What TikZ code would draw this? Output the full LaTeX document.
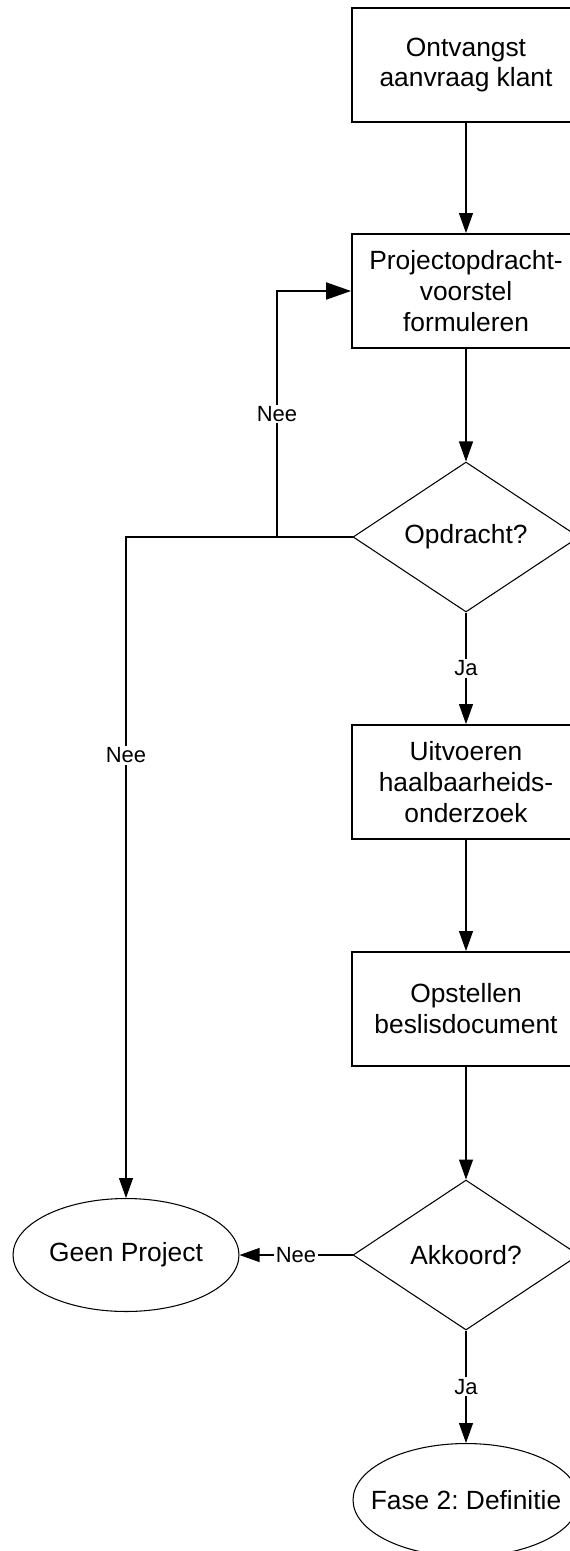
\documentclass[tikz,border=0pt]{standalone}
\usepackage{fontspec}
\setmainfont{Liberation Sans}
\usepackage{tikz}
\usetikzlibrary{shapes,arrows.meta,calc}
\tikzstyle{tsText} = [ 
    text=black, 
    font=\fontsize{15}{17.6}\selectfont
]
\tikzstyle{tsBox} = [ 
    rectangle,
    tsText,
    draw=black,
    line width=1.1pt,
    minimum width=4.56cm,
    minimum height=2.28cm,
    align=center,
    inner sep=0pt]
\tikzstyle{tsDecision} = [ 
    diamond,
    tsText,
    draw=black,
    line width=0.6pt,
    aspect=1.5,
    minimum width=4.52cm,
    minimum height=3cm,
    inner sep=0pt]
\tikzstyle{tsTerminal} = [ 
    ellipse,
    tsText,
    draw=black,
    line width=0.6pt,
    minimum width=4.52cm,
    minimum height=2.26cm,
    inner xsep=-0.9cm,
    inner ysep=0pt]
\tikzstyle{tsLabel} = [ 
    fill=white,
    text=black,
    font=\fontsize{12.5}{14}\selectfont,
    inner sep=1pt]
\tikzstyle{tsArrow} = [ 
    -{Triangle[length=0.4cm, width=0.28cm]},
    line width=0.6pt]
\tikzstyle{tsBoldArrow} = [ 
    -{Triangle[length=0.5cm, width=0.34cm]},
    line width=1.1pt]

\begin{document}
\frenchspacing
\begin{tikzpicture} [x=0.02cm, y=-0.02cm]
        \clip (0,0) rectangle (570,1551);

        % Process boxes
        \node[tsBox] (ontvangst) at (466, 65) {Ontvangst\\aanvraag klant};
        \node[tsBox] (voorstel) at (466, 291) {Projectopdracht-\\voorstel\\formuleren};
        \node[tsBox] (haalbaar) at (466, 782) {Uitvoeren\\haalbaarheids-\\onderzoek};
        \node[tsBox] (beslis) at (466, 1009) {Opstellen\\beslisdocument};

        % Decisions
        \node[tsDecision] (opdracht) at (466, 537) {Opdracht?};
        \node[tsDecision] (akkoord) at (466, 1255) {Akkoord?};

        % End points
        \node[tsTerminal] (geen) at (126, 1255) {Geen Project};
        \node[tsTerminal] (fase) at (466, 1500) {Fase 2: Definitie};

        % Main flow
        \draw[tsArrow] (ontvangst.south) -- (voorstel.north);
        \draw[tsArrow] (voorstel.south) -- (opdracht.north);
        \draw[tsArrow] (opdracht.south) -- node[tsLabel] {Ja} (haalbaar.north);
        \draw[tsArrow] (haalbaar.south) -- (beslis.north);
        \draw[tsArrow] (beslis.south) -- (akkoord.north);
        \draw[tsArrow] (akkoord.south) -- node[tsLabel] {Ja} (fase.north);

        % Nee branches
        \coordinate (neeSplit) at (277, 537);
        \draw[tsBoldArrow] (opdracht.west) -- (neeSplit)
            |- node[tsLabel, pos=0.25] {Nee} (voorstel.west);
        \draw[tsArrow] (neeSplit) -| node[tsLabel, pos=0.665] {Nee} (geen.north);
        \draw[tsArrow] (akkoord.west) -- node[tsLabel] {Nee} (geen.east);

    \end{tikzpicture}
\end{document}
